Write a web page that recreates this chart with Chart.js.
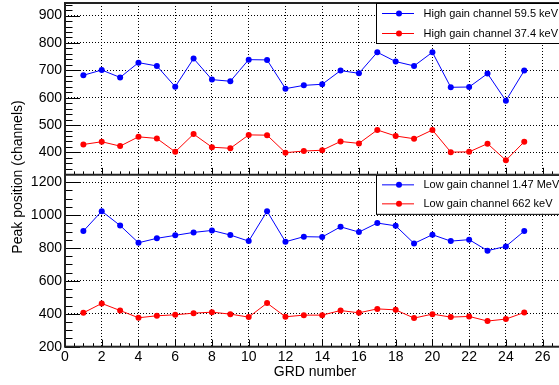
<!DOCTYPE html>
<html><head><meta charset="utf-8">
<script src="https://cdn.jsdelivr.net/npm/chart.js@4"></script>
<style>html,body{margin:0;padding:0;background:#fff;overflow:hidden;width:559px;height:385px}
#wrap{position:absolute;left:0;top:0;width:600px;height:385px}</style></head>
<body><div id="wrap"><canvas id="c" width="600" height="385"></canvas></div>
<script>
const grdNumbers = [1,2,3,4,5,6,7,8,9,10,11,12,13,14,15,16,17,18,19,20,21,22,23,24,25];
const highGain595 = [682,701,674,728,716,640,743,666,660,739,738,633,645,649,699,689,766,732,716,766,638,639,688,589,699];
const highGain374 = [429,439,423,457,451,402,467,419,415,464,463,399,405,408,440,433,482,460,450,482,401,402,432,371,439];
const lowGain147 = [903,1024,937,832,859,877,895,907,879,842,1024,838,869,867,929,897,952,935,828,881,842,851,784,810,903];
const lowGain662 = [406,463,420,376,388,394,404,410,398,380,465,382,392,392,420,406,430,424,374,398,380,384,356,368,408];
const seriesLabels = ['High gain channel 59.5 keV','High gain channel 37.4 keV','Low gain channel 1.47 MeV','Low gain channel 662 keV'];
const xTickValues = [0,2,4,6,8,10,12,14,16,18,20,22,24,26];
const topTickValues = [400,500,600,700,800,900];
const bottomTickValues = [200,400,600,800,1000,1200];
const xTitle = 'GRD number';
const yTitle = 'Peak position (channels)';

const FONT = '"Liberation Sans", Arial, Helvetica, sans-serif';
const BLUE = '#0000ff', RED = '#ff0000';

function pts(vals){ return grdNumbers.map((x,i)=>({x:x, y:vals[i]})); }
function fixTicks(list){ return s => { s.ticks = list.map(v=>({value:v})); }; }

function drawLegend(ctx, x0, y0, h, rows){
  ctx.save();
  ctx.fillStyle = '#fff';
  ctx.fillRect(x0, y0, 220, h);
  ctx.strokeStyle = '#000'; ctx.lineWidth = 1;
  ctx.strokeRect(x0 + 0.5, y0 + 0.5, 220, h);
  rows.forEach(r => {
    ctx.strokeStyle = r.color; ctx.lineWidth = 1;
    ctx.beginPath(); ctx.moveTo(x0 + 6, y0 + r.dy); ctx.lineTo(x0 + 38, y0 + r.dy); ctx.stroke();
    ctx.fillStyle = r.color;
    ctx.beginPath(); ctx.arc(x0 + 23, y0 + r.dy, 3, 0, Math.PI*2); ctx.fill();
    ctx.fillStyle = '#000'; ctx.font = '11px ' + FONT; ctx.textBaseline = 'middle'; ctx.textAlign = 'left';
    ctx.fillText(r.label, x0 + 47.5, y0 + r.dy + 0.5);
  });
  ctx.restore();
}

const framePlugin = {
  id: 'frame',
  afterDraw(chart){
    const ctx = chart.ctx, a = chart.chartArea, s = chart.scales;
    const x = s.x, yt = s.yTop, yb = s.yBot;
    ctx.save();
    ctx.strokeStyle = '#000'; ctx.lineWidth = 1;
    ctx.beginPath();
    for (let v = 0; v <= x.max + 1e-9; v += 0.5) {
      const px = Math.round(x.getPixelForValue(v)) + 0.5;
      const len = (v % 2 === 0) ? 7 : 3.5;
      [yt.bottom, yb.bottom].forEach(b => { ctx.moveTo(px, b); ctx.lineTo(px, b - len); });
    }
    const yTicks = (sc, minor, major) => {
      const start = Math.ceil(sc.min / minor) * minor;
      for (let v = start; v <= sc.max; v += minor) {
        const py = Math.round(sc.getPixelForValue(v)) + 0.5;
        const len = (v % major === 0) ? 15 : 7.5;
        ctx.moveTo(a.left, py); ctx.lineTo(a.left + len, py);
      }
    };
    yTicks(yt, 20, 100);
    yTicks(yb, 50, 200);
    ctx.stroke();
    ctx.strokeStyle = '#222'; ctx.lineWidth = 2;
    ctx.strokeRect(a.left, a.top, a.right - a.left, a.bottom - a.top);
    ctx.beginPath(); ctx.moveTo(a.left, yt.bottom); ctx.lineTo(a.right, yt.bottom); ctx.stroke();
    ctx.restore();

    drawLegend(ctx, 376, a.top, 40, [
      {label: seriesLabels[0], color: BLUE, dy: 10.5},
      {label: seriesLabels[1], color: RED, dy: 30.5}
    ]);
    drawLegend(ctx, 376, yb.top, 39, [
      {label: seriesLabels[2], color: BLUE, dy: 10},
      {label: seriesLabels[3], color: RED, dy: 29}
    ]);

    ctx.save();
    ctx.fillStyle = '#000'; ctx.font = '14px ' + FONT;
    ctx.textAlign = 'center'; ctx.textBaseline = 'middle';
    ctx.fillText(xTitle, 315, 372);
    ctx.translate(18, 177);
    ctx.rotate(-Math.PI/2);
    ctx.fillText(yTitle, 0, 0);
    ctx.restore();
  }
};

const gridOpts = {color:'#000', lineWidth:1, drawTicks:false};
const borderOpts = {display:false, dash:[1,2]};
const tickFont = {family: FONT, size: 14};
const plain = v => String(v);
const yFit = s => { s.width = 65; s.paddingTop = 0; s.paddingBottom = 0; };

new Chart(document.getElementById('c'), {
  type: 'line',
  data: {datasets: [
    {label: seriesLabels[0], data: pts(highGain595), yAxisID: 'yTop', borderColor: BLUE, backgroundColor: BLUE},
    {label: seriesLabels[1], data: pts(highGain374), yAxisID: 'yTop', borderColor: RED, backgroundColor: RED},
    {label: seriesLabels[2], data: pts(lowGain147), yAxisID: 'yBot', borderColor: BLUE, backgroundColor: BLUE},
    {label: seriesLabels[3], data: pts(lowGain662), yAxisID: 'yBot', borderColor: RED, backgroundColor: RED}
  ]},
  options: {
    responsive: false, animation: false, devicePixelRatio: 1,
    layout: {padding: {left: 0, top: 2, right: 39, bottom: 0}},
    plugins: {legend: {display: false}, tooltip: {enabled: false}},
    elements: {line: {borderWidth: 1, tension: 0}, point: {radius: 3, hoverRadius: 3, borderWidth: 0}},
    scales: {
      x: {type: 'linear', min: 0, max: 27, afterBuildTicks: fixTicks(xTickValues),
          afterFit: s => { s.height = 38.3; s.paddingLeft = 0; s.paddingRight = 0; },
          grid: gridOpts, border: borderOpts,
          ticks: {padding: 2, font: tickFont, color: '#000', maxRotation: 0, autoSkip: false, callback: plain}},
      yTop: {type: 'linear', position: 'left', stack: 'p', stackWeight: 1, weight: 2, min: 318, max: 946,
          afterBuildTicks: fixTicks(topTickValues), afterFit: yFit,
          grid: gridOpts, border: borderOpts,
          ticks: {padding: 3, font: tickFont, color: '#000', autoSkip: false, callback: plain}},
      yBot: {type: 'linear', position: 'left', stack: 'p', stackWeight: 1, weight: 1, min: 200, max: 1245,
          afterBuildTicks: fixTicks(bottomTickValues), afterFit: yFit,
          grid: gridOpts, border: borderOpts,
          ticks: {padding: 3, font: tickFont, color: '#000', autoSkip: false, callback: plain}}
    }
  },
  plugins: [framePlugin]
});
</script></body></html>
